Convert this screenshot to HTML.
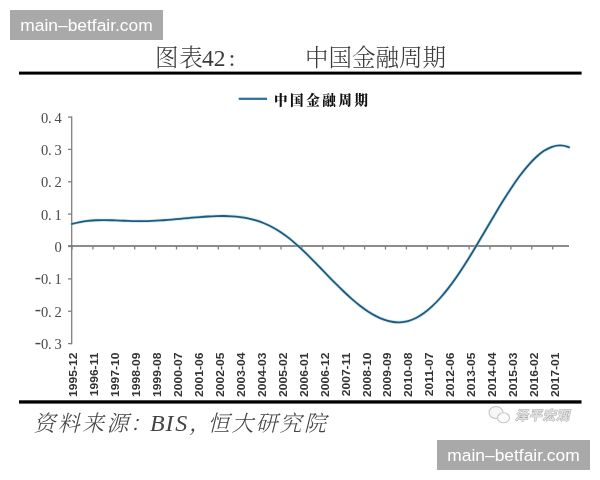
<!DOCTYPE html>
<html lang="zh"><head><meta charset="utf-8"><title>图表42: 中国金融周期</title>
<style>
html,body{margin:0;padding:0;background:#fff;}
body{width:600px;height:480px;overflow:hidden;position:relative;font-family:"Liberation Sans","Noto Sans CJK SC",sans-serif;}
svg{position:absolute;left:0;top:0;display:block;filter:blur(0.4px);}
.wm{position:absolute;background:#a9a9a9;color:#fff;font-family:"Liberation Sans",sans-serif;font-size:17.4px;line-height:30px;text-align:center;white-space:nowrap;}
</style></head><body>
<svg width="600" height="480" viewBox="0 0 600 480">
<rect width="600" height="480" fill="#fff"/>

<g font-family="'Liberation Serif','Noto Serif CJK SC',serif" fill="#3a3a3a" font-size="23.5" font-weight="300">
<text y="66" x="155 179.3 202 213.75 228.7">图表42:</text>
<text x="305" y="66" letter-spacing="0">中国金融周期</text>
</g>
<rect x="19" y="71.6" width="562.6" height="3" fill="#000"/>
<rect x="19" y="400.3" width="562.5" height="3.3" fill="#000"/>
<line x1="238.7" y1="98.8" x2="267" y2="98.8" stroke="#2a6f93" stroke-width="2.2"/>
<text x="274" y="105.2" font-family="'Liberation Serif','Noto Serif CJK SC',serif" font-weight="900" font-size="13.5" letter-spacing="2.6" fill="#111">中国金融周期</text>
<g stroke="#7f7f7f" stroke-width="1.3" fill="none">
<line x1="71.7" y1="116.5" x2="71.7" y2="344.2"/>
<line x1="68" y1="246.0" x2="569" y2="246.0" stroke="#666" stroke-width="1.7"/>
<line x1="68" y1="117.1" x2="72" y2="117.1"/>
<line x1="68" y1="149.4" x2="72" y2="149.4"/>
<line x1="68" y1="181.8" x2="72" y2="181.8"/>
<line x1="68" y1="214.1" x2="72" y2="214.1"/>
<line x1="68" y1="246.5" x2="72" y2="246.5"/>
<line x1="68" y1="278.9" x2="72" y2="278.9"/>
<line x1="68" y1="311.2" x2="72" y2="311.2"/>
<line x1="68" y1="343.6" x2="72" y2="343.6"/>
<line x1="72.0" y1="246.0" x2="72.0" y2="249.5"/>
<line x1="92.9" y1="246.0" x2="92.9" y2="249.5"/>
<line x1="113.8" y1="246.0" x2="113.8" y2="249.5"/>
<line x1="134.7" y1="246.0" x2="134.7" y2="249.5"/>
<line x1="155.6" y1="246.0" x2="155.6" y2="249.5"/>
<line x1="176.5" y1="246.0" x2="176.5" y2="249.5"/>
<line x1="197.4" y1="246.0" x2="197.4" y2="249.5"/>
<line x1="218.3" y1="246.0" x2="218.3" y2="249.5"/>
<line x1="239.2" y1="246.0" x2="239.2" y2="249.5"/>
<line x1="260.1" y1="246.0" x2="260.1" y2="249.5"/>
<line x1="281.0" y1="246.0" x2="281.0" y2="249.5"/>
<line x1="301.9" y1="246.0" x2="301.9" y2="249.5"/>
<line x1="322.8" y1="246.0" x2="322.8" y2="249.5"/>
<line x1="343.7" y1="246.0" x2="343.7" y2="249.5"/>
<line x1="364.6" y1="246.0" x2="364.6" y2="249.5"/>
<line x1="385.5" y1="246.0" x2="385.5" y2="249.5"/>
<line x1="406.4" y1="246.0" x2="406.4" y2="249.5"/>
<line x1="427.3" y1="246.0" x2="427.3" y2="249.5"/>
<line x1="448.2" y1="246.0" x2="448.2" y2="249.5"/>
<line x1="469.1" y1="246.0" x2="469.1" y2="249.5"/>
<line x1="490.0" y1="246.0" x2="490.0" y2="249.5"/>
<line x1="510.9" y1="246.0" x2="510.9" y2="249.5"/>
<line x1="531.8" y1="246.0" x2="531.8" y2="249.5"/>
<line x1="552.7" y1="246.0" x2="552.7" y2="249.5"/>
</g>
<g font-family="'Liberation Serif','Noto Serif CJK SC',serif" font-size="14.5" fill="#4a4a4a">
<text x="41.1 47.9 54.6" y="122.6">0.4</text>
<text x="41.1 47.9 54.6" y="154.9">0.3</text>
<text x="41.1 47.9 54.6" y="187.3">0.2</text>
<text x="41.1 47.9 54.6" y="219.6">0.1</text>
<text x="54.6" y="252.0">0</text>
<text y="284.4" x="34.7 41.1 47.9 54.6"><tspan dy="-1.3" font-size="19">-</tspan><tspan dy="1.3">0.1</tspan></text>
<text y="316.7" x="34.7 41.1 47.9 54.6"><tspan dy="-1.3" font-size="19">-</tspan><tspan dy="1.3">0.2</tspan></text>
<text y="349.1" x="34.7 41.1 47.9 54.6"><tspan dy="-1.3" font-size="19">-</tspan><tspan dy="1.3">0.3</tspan></text>
</g>
<g font-family="'Liberation Sans',sans-serif" font-size="10.2" font-weight="700" fill="#333" text-anchor="end">
<text transform="translate(73.7,352.6) rotate(-90) scale(1.185,1)" x="0" y="3.65">1995-12</text>
<text transform="translate(94.6,352.6) rotate(-90) scale(1.185,1)" x="0" y="3.65">1996-11</text>
<text transform="translate(115.6,352.6) rotate(-90) scale(1.185,1)" x="0" y="3.65">1997-10</text>
<text transform="translate(136.5,352.6) rotate(-90) scale(1.185,1)" x="0" y="3.65">1998-09</text>
<text transform="translate(157.5,352.6) rotate(-90) scale(1.185,1)" x="0" y="3.65">1999-08</text>
<text transform="translate(178.4,352.6) rotate(-90) scale(1.185,1)" x="0" y="3.65">2000-07</text>
<text transform="translate(199.3,352.6) rotate(-90) scale(1.185,1)" x="0" y="3.65">2001-06</text>
<text transform="translate(220.3,352.6) rotate(-90) scale(1.185,1)" x="0" y="3.65">2002-05</text>
<text transform="translate(241.2,352.6) rotate(-90) scale(1.185,1)" x="0" y="3.65">2003-04</text>
<text transform="translate(262.2,352.6) rotate(-90) scale(1.185,1)" x="0" y="3.65">2004-03</text>
<text transform="translate(283.1,352.6) rotate(-90) scale(1.185,1)" x="0" y="3.65">2005-02</text>
<text transform="translate(304.0,352.6) rotate(-90) scale(1.185,1)" x="0" y="3.65">2006-01</text>
<text transform="translate(325.0,352.6) rotate(-90) scale(1.185,1)" x="0" y="3.65">2006-12</text>
<text transform="translate(345.9,352.6) rotate(-90) scale(1.185,1)" x="0" y="3.65">2007-11</text>
<text transform="translate(366.9,352.6) rotate(-90) scale(1.185,1)" x="0" y="3.65">2008-10</text>
<text transform="translate(387.8,352.6) rotate(-90) scale(1.185,1)" x="0" y="3.65">2009-09</text>
<text transform="translate(408.7,352.6) rotate(-90) scale(1.185,1)" x="0" y="3.65">2010-08</text>
<text transform="translate(429.7,352.6) rotate(-90) scale(1.185,1)" x="0" y="3.65">2011-07</text>
<text transform="translate(450.6,352.6) rotate(-90) scale(1.185,1)" x="0" y="3.65">2012-06</text>
<text transform="translate(471.6,352.6) rotate(-90) scale(1.185,1)" x="0" y="3.65">2013-05</text>
<text transform="translate(492.5,352.6) rotate(-90) scale(1.185,1)" x="0" y="3.65">2014-04</text>
<text transform="translate(513.4,352.6) rotate(-90) scale(1.185,1)" x="0" y="3.65">2015-03</text>
<text transform="translate(534.4,352.6) rotate(-90) scale(1.185,1)" x="0" y="3.65">2016-02</text>
<text transform="translate(555.3,352.6) rotate(-90) scale(1.185,1)" x="0" y="3.65">2017-01</text>
</g>
<path d="M72.0,223.98 C74.67,223.21 77.33,222.58 80.0,222.07 C82.67,221.56 85.33,221.17 88.0,220.88 C90.67,220.59 93.33,220.39 96.0,220.27 C98.67,220.15 101.33,220.10 104.0,220.11 C106.67,220.11 109.33,220.16 112.0,220.25 C114.67,220.33 117.33,220.44 120.0,220.56 C122.67,220.68 125.33,220.80 128.0,220.91 C130.67,221.01 133.33,221.10 136.0,221.15 C138.67,221.20 141.33,221.20 144.0,221.16 C146.67,221.12 149.33,221.04 152.0,220.92 C154.67,220.80 157.33,220.65 160.0,220.47 C162.67,220.29 165.33,220.09 168.0,219.87 C170.67,219.65 173.33,219.42 176.0,219.18 C178.67,218.93 181.33,218.68 184.0,218.44 C186.67,218.19 189.33,217.94 192.0,217.71 C194.67,217.47 197.33,217.25 200.0,217.04 C202.67,216.83 205.33,216.65 208.0,216.49 C210.67,216.33 213.33,216.20 216.0,216.12 C218.67,216.03 221.33,215.99 224.0,216.02 C226.67,216.04 229.33,216.13 232.0,216.29 C234.67,216.46 237.33,216.70 240.0,217.05 C242.67,217.39 245.33,217.83 248.0,218.39 C250.67,218.94 253.33,219.61 256.0,220.41 C258.67,221.21 261.33,222.15 264.0,223.23 C266.67,224.31 269.33,225.54 272.0,226.94 C274.67,228.34 277.33,229.90 280.0,231.65 C282.67,233.39 285.33,235.32 288.0,237.41 C290.67,239.49 293.33,241.73 296.0,244.08 C298.67,246.43 301.33,248.90 304.0,251.45 C306.67,254.00 309.33,256.64 312.0,259.33 C314.67,262.01 317.33,264.75 320.0,267.50 C322.67,270.25 325.33,273.01 328.0,275.76 C330.67,278.51 333.33,281.24 336.0,283.91 C338.67,286.59 341.33,289.21 344.0,291.75 C346.67,294.28 349.33,296.73 352.0,299.07 C354.67,301.40 357.33,303.62 360.0,305.69 C362.67,307.76 365.33,309.69 368.0,311.44 C370.67,313.20 373.33,314.78 376.0,316.15 C378.67,317.53 381.33,318.70 384.0,319.64 C386.67,320.59 389.33,321.30 392.0,321.75 C394.67,322.20 397.33,322.39 400.0,322.29 C402.67,322.18 405.33,321.79 408.0,321.09 C410.67,320.38 413.33,319.34 416.0,318.00 C418.67,316.65 421.33,315.00 424.0,313.07 C426.67,311.13 429.33,308.91 432.0,306.43 C434.67,303.95 437.33,301.22 440.0,298.24 C442.67,295.27 445.33,292.06 448.0,288.64 C450.67,285.22 453.33,281.59 456.0,277.77 C458.67,273.95 461.33,269.94 464.0,265.79 C466.67,261.63 469.33,257.34 472.0,252.95 C474.67,248.56 477.33,244.09 480.0,239.57 C482.67,235.05 485.33,230.50 488.0,225.96 C490.67,221.42 493.33,216.90 496.0,212.45 C498.67,207.99 501.33,203.60 504.0,199.33 C506.67,195.06 509.33,190.92 512.0,186.94 C514.67,182.96 517.33,179.16 520.0,175.58 C522.67,172.00 525.33,168.65 528.0,165.57 C530.67,162.50 533.33,159.70 536.0,157.23 C538.67,154.76 541.33,152.62 544.0,150.87 C546.67,149.11 549.33,147.74 552.0,146.80 C554.67,145.87 557.33,145.37 560.0,145.35 C562.67,145.34 565.33,145.81 568.0,146.83 C568.33,146.95 568.67,147.09 569.0,147.23" fill="none" stroke="#9fd3e6" stroke-width="3.4" stroke-linecap="round" opacity="0.5"/>
<path d="M72.0,223.98 C74.67,223.21 77.33,222.58 80.0,222.07 C82.67,221.56 85.33,221.17 88.0,220.88 C90.67,220.59 93.33,220.39 96.0,220.27 C98.67,220.15 101.33,220.10 104.0,220.11 C106.67,220.11 109.33,220.16 112.0,220.25 C114.67,220.33 117.33,220.44 120.0,220.56 C122.67,220.68 125.33,220.80 128.0,220.91 C130.67,221.01 133.33,221.10 136.0,221.15 C138.67,221.20 141.33,221.20 144.0,221.16 C146.67,221.12 149.33,221.04 152.0,220.92 C154.67,220.80 157.33,220.65 160.0,220.47 C162.67,220.29 165.33,220.09 168.0,219.87 C170.67,219.65 173.33,219.42 176.0,219.18 C178.67,218.93 181.33,218.68 184.0,218.44 C186.67,218.19 189.33,217.94 192.0,217.71 C194.67,217.47 197.33,217.25 200.0,217.04 C202.67,216.83 205.33,216.65 208.0,216.49 C210.67,216.33 213.33,216.20 216.0,216.12 C218.67,216.03 221.33,215.99 224.0,216.02 C226.67,216.04 229.33,216.13 232.0,216.29 C234.67,216.46 237.33,216.70 240.0,217.05 C242.67,217.39 245.33,217.83 248.0,218.39 C250.67,218.94 253.33,219.61 256.0,220.41 C258.67,221.21 261.33,222.15 264.0,223.23 C266.67,224.31 269.33,225.54 272.0,226.94 C274.67,228.34 277.33,229.90 280.0,231.65 C282.67,233.39 285.33,235.32 288.0,237.41 C290.67,239.49 293.33,241.73 296.0,244.08 C298.67,246.43 301.33,248.90 304.0,251.45 C306.67,254.00 309.33,256.64 312.0,259.33 C314.67,262.01 317.33,264.75 320.0,267.50 C322.67,270.25 325.33,273.01 328.0,275.76 C330.67,278.51 333.33,281.24 336.0,283.91 C338.67,286.59 341.33,289.21 344.0,291.75 C346.67,294.28 349.33,296.73 352.0,299.07 C354.67,301.40 357.33,303.62 360.0,305.69 C362.67,307.76 365.33,309.69 368.0,311.44 C370.67,313.20 373.33,314.78 376.0,316.15 C378.67,317.53 381.33,318.70 384.0,319.64 C386.67,320.59 389.33,321.30 392.0,321.75 C394.67,322.20 397.33,322.39 400.0,322.29 C402.67,322.18 405.33,321.79 408.0,321.09 C410.67,320.38 413.33,319.34 416.0,318.00 C418.67,316.65 421.33,315.00 424.0,313.07 C426.67,311.13 429.33,308.91 432.0,306.43 C434.67,303.95 437.33,301.22 440.0,298.24 C442.67,295.27 445.33,292.06 448.0,288.64 C450.67,285.22 453.33,281.59 456.0,277.77 C458.67,273.95 461.33,269.94 464.0,265.79 C466.67,261.63 469.33,257.34 472.0,252.95 C474.67,248.56 477.33,244.09 480.0,239.57 C482.67,235.05 485.33,230.50 488.0,225.96 C490.67,221.42 493.33,216.90 496.0,212.45 C498.67,207.99 501.33,203.60 504.0,199.33 C506.67,195.06 509.33,190.92 512.0,186.94 C514.67,182.96 517.33,179.16 520.0,175.58 C522.67,172.00 525.33,168.65 528.0,165.57 C530.67,162.50 533.33,159.70 536.0,157.23 C538.67,154.76 541.33,152.62 544.0,150.87 C546.67,149.11 549.33,147.74 552.0,146.80 C554.67,145.87 557.33,145.37 560.0,145.35 C562.67,145.34 565.33,145.81 568.0,146.83 C568.33,146.95 568.67,147.09 569.0,147.23" fill="none" stroke="#22597a" stroke-width="1.8" stroke-linecap="round"/>
<g font-family="'Liberation Serif','Noto Serif CJK SC',serif" font-style="italic" font-size="22" font-weight="300" fill="#444">
<text y="430.5" x="33.5 57.8 82.1 106.4 130.0 150.0 165.6 175.3 189.0 207.5 231.5 255.5 279.5 304.0">资料来源：<tspan font-size="24">BIS</tspan>，恒大研究院</text>
</g>
<g fill="#f6f6f6" stroke="#c6c6c6" stroke-width="1.1"><ellipse cx="496" cy="412.5" rx="7" ry="6"/><ellipse cx="503.5" cy="417.8" rx="6" ry="5" fill="#fbfbfb"/></g>
<text x="515" y="419.8" font-family="'Liberation Sans','Noto Sans CJK SC',sans-serif" font-size="13" letter-spacing="0.75" font-weight="700" fill="#e2e2e2" stroke="#a9a9a9" stroke-width="0.9" paint-order="stroke" font-style="italic">泽平宏观</text>
</svg>
<div class="wm" style="left:10px;top:10px;width:153px;height:30px;">main–betfair.com</div>
<div class="wm" style="left:437px;top:440px;width:153px;height:30px;">main–betfair.com</div>
</body></html>
